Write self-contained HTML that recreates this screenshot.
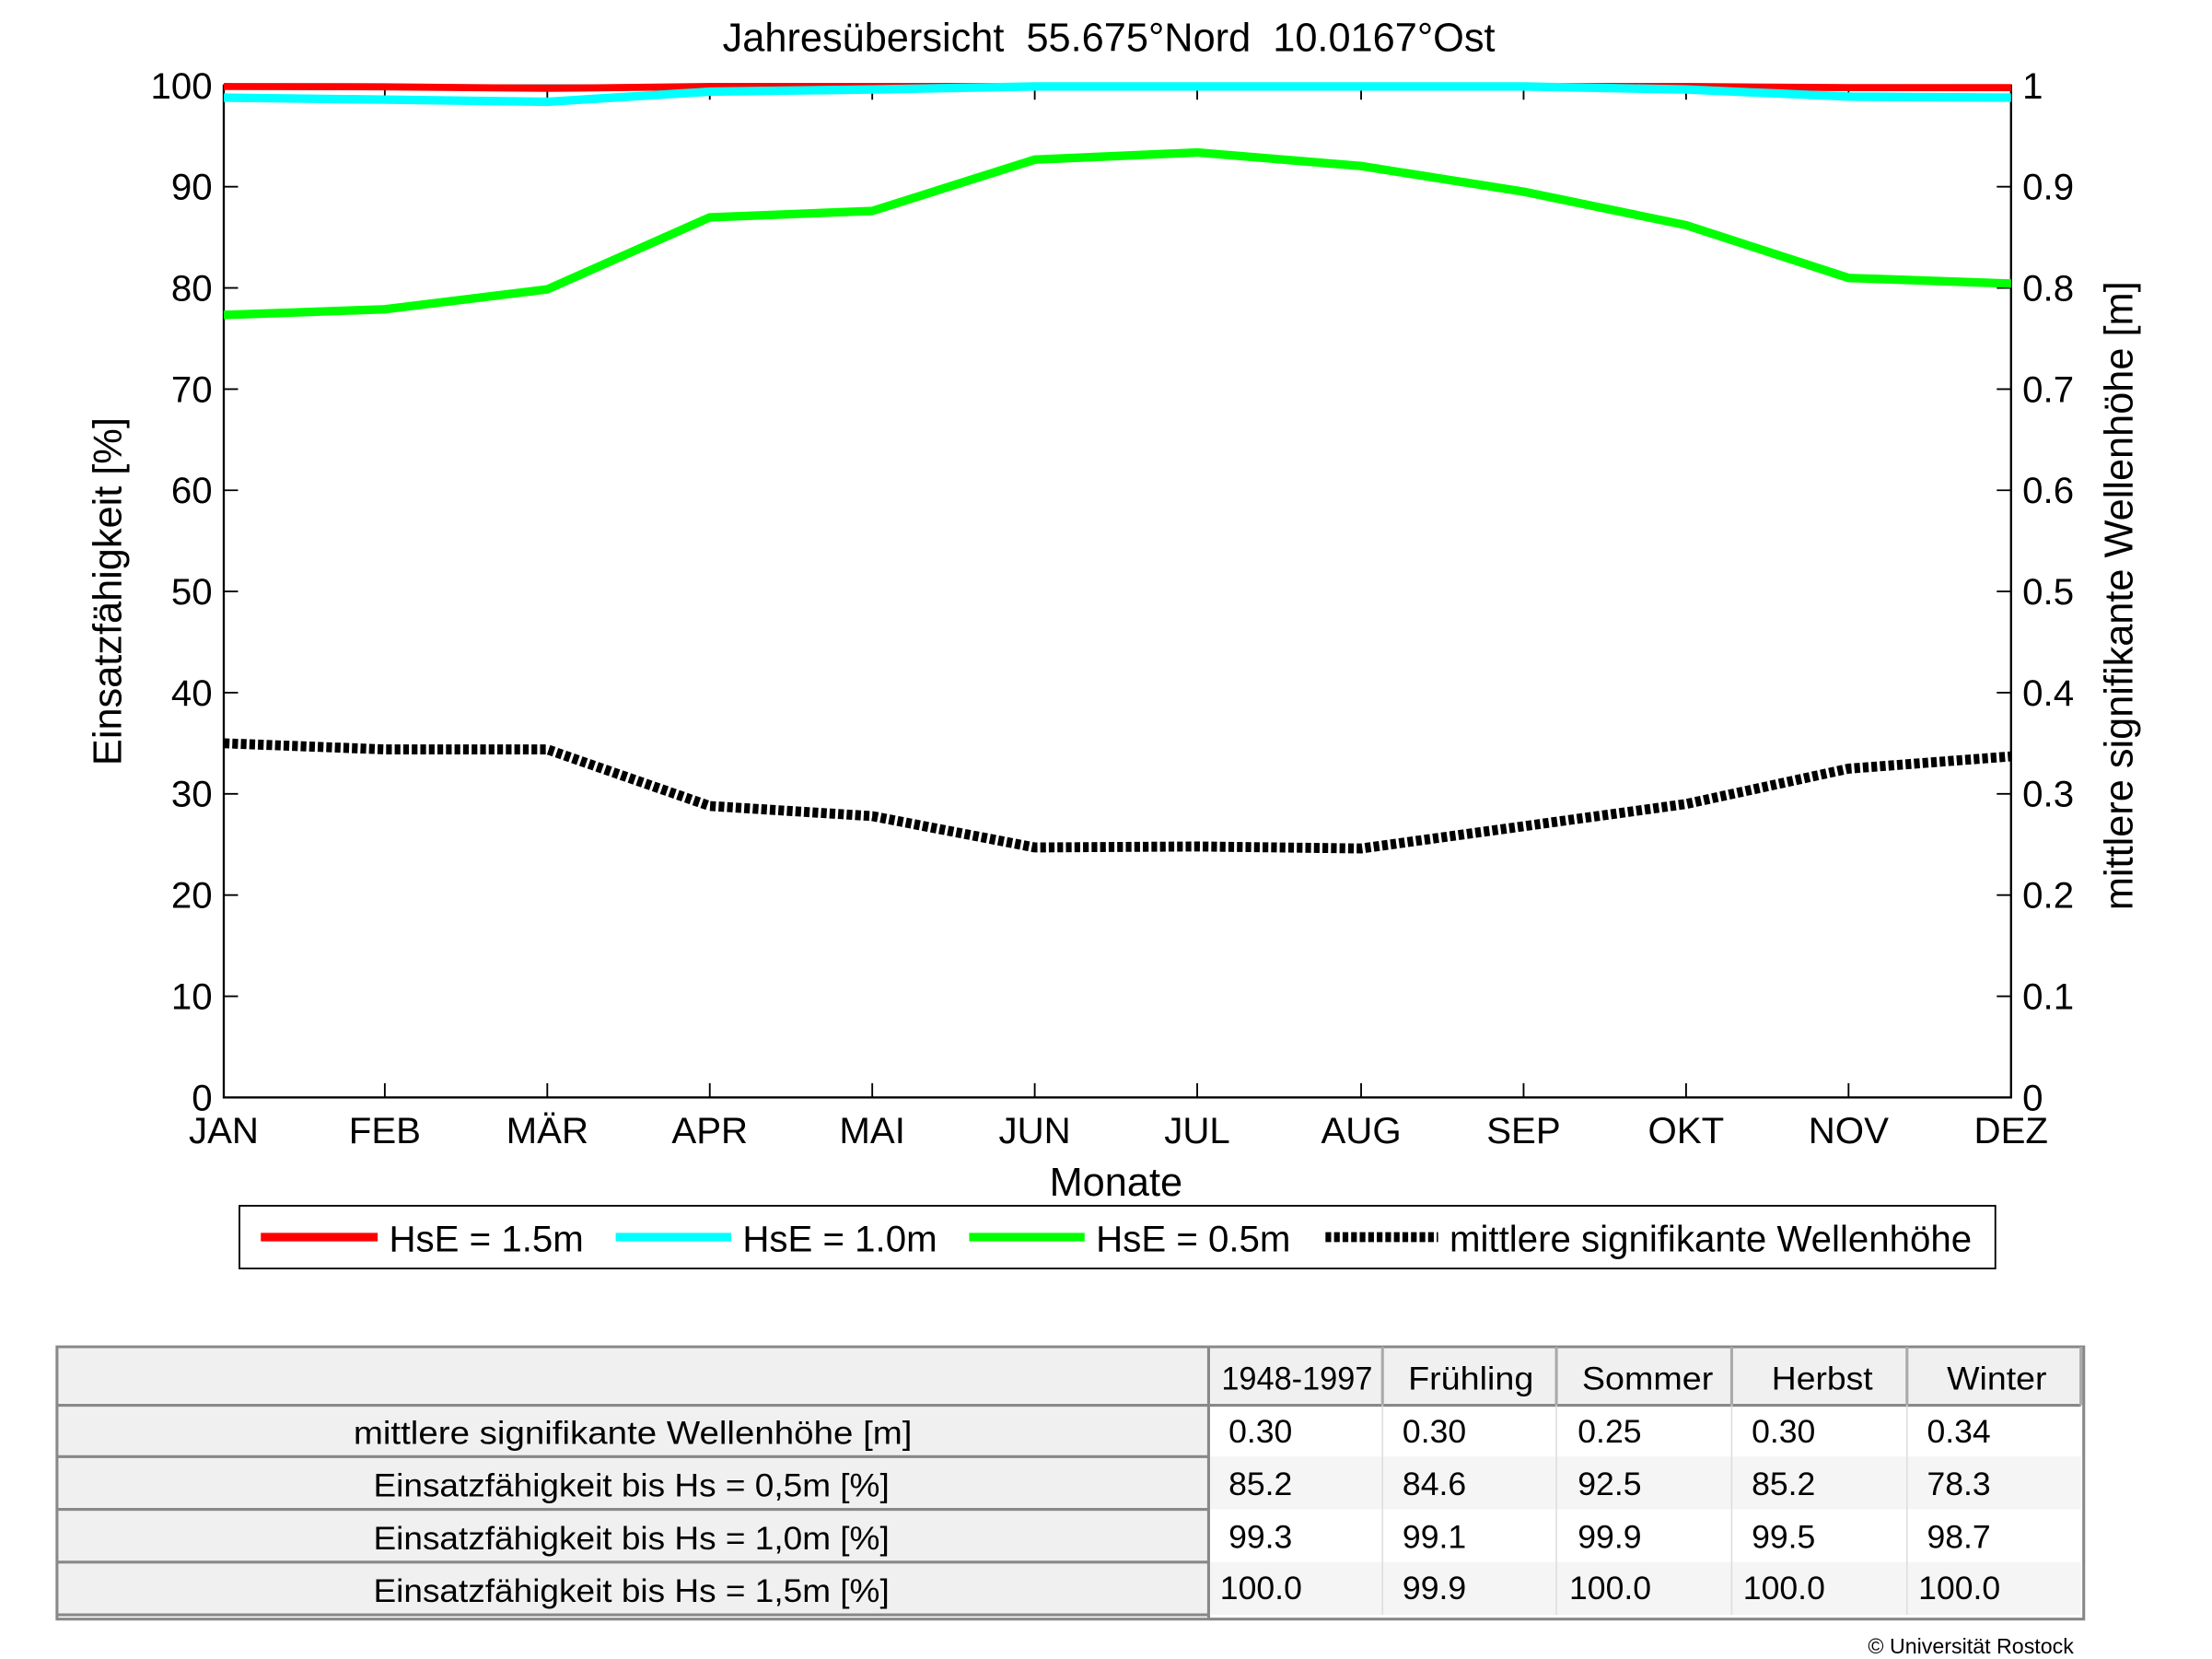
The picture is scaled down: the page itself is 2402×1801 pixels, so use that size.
<!DOCTYPE html>
<html><head><meta charset="utf-8"><style>
html,body{margin:0;padding:0;background:#fff;}
svg{display:block;}
text{font-family:"Liberation Sans",sans-serif;fill:#000;}
</style></head><body>
<svg width="2402" height="1801" viewBox="0 0 1552 1164" preserveAspectRatio="none" xmlns="http://www.w3.org/2000/svg">
<rect width="1552" height="1164" fill="#fff"/>
<text x="778" y="36" font-size="28" text-anchor="middle" xml:space="preserve" style="white-space:pre">Jahresübersicht  55.675°Nord  10.0167°Ost</text>
<rect x="157" y="60" width="1254" height="710" fill="none" stroke="#000" stroke-width="1.5"/>
<g stroke="#000" stroke-width="1.2">
<path d="M157,699h10M157,628h10M157,557h10M157,486h10M157,415h10M157,344h10M157,273h10M157,202h10M157,131h10"/>
<path d="M1411,699h-10M1411,628h-10M1411,557h-10M1411,486h-10M1411,415h-10M1411,344h-10M1411,273h-10M1411,202h-10M1411,131h-10"/>
<path d="M270,770v-10M384,770v-10M498,770v-10M612,770v-10M726,770v-10M840,770v-10M955,770v-10M1069,770v-10M1183,770v-10M1297,770v-10"/>
<path d="M270,60v10M384,60v10M498,60v10M612,60v10M726,60v10M840,60v10M955,60v10M1069,60v10M1183,60v10M1297,60v10"/>
</g>
<g font-size="26" text-anchor="end">
<text x="149" y="69">100</text><text x="149" y="140">90</text><text x="149" y="211">80</text><text x="149" y="282">70</text><text x="149" y="353">60</text><text x="149" y="424">50</text><text x="149" y="495">40</text><text x="149" y="566">30</text><text x="149" y="637">20</text><text x="149" y="708">10</text><text x="149" y="779">0</text>
</g>
<g font-size="26">
<text x="1419" y="69">1</text><text x="1419" y="140">0.9</text><text x="1419" y="211">0.8</text><text x="1419" y="282">0.7</text><text x="1419" y="353">0.6</text><text x="1419" y="424">0.5</text><text x="1419" y="495">0.4</text><text x="1419" y="566">0.3</text><text x="1419" y="637">0.2</text><text x="1419" y="708">0.1</text><text x="1419" y="779">0</text>
</g>
<g font-size="26" text-anchor="middle">
<text x="157" y="802">JAN</text><text x="270" y="802">FEB</text><text x="384" y="802">MÄR</text><text x="498" y="802">APR</text><text x="612" y="802">MAI</text><text x="726" y="802">JUN</text><text x="840" y="802">JUL</text><text x="955" y="802">AUG</text><text x="1069" y="802">SEP</text><text x="1183" y="802">OKT</text><text x="1297" y="802">NOV</text><text x="1411" y="802">DEZ</text>
</g>
<text x="783" y="839" font-size="28" text-anchor="middle">Monate</text>
<text transform="translate(85,415) rotate(-90)" font-size="28" text-anchor="middle">Einsatzfähigkeit [%]</text>
<text transform="translate(1496,418) rotate(-90)" font-size="28" text-anchor="middle">mittlere signifikante Wellenhöhe [m]</text>
<polyline fill="none" stroke="#ff0000" stroke-width="5" points="157,60.7 270,60.9 384,62 498,60.7 612,60.7 726,60.7 840,60.7 955,60.7 1069,60.7 1183,60.7 1297,61.5 1411,61.5"/>
<polyline fill="none" stroke="#00ffff" stroke-width="6" points="157,68.5 270,69.9 384,71.4 498,64.3 612,62.8 726,60.7 840,60.7 955,60.7 1069,60.7 1183,62.8 1297,67.8 1411,68.5"/>
<polyline fill="none" stroke="#00ff00" stroke-width="6" points="157,221 270,217 384,203 498,152.5 612,148 726,112 840,107 955,116.5 1069,134.5 1183,158 1297,195 1411,199"/>
<polyline fill="none" stroke="#000" stroke-width="7" stroke-dasharray="4,2" points="157,521.5 270,525.8 384,525.8 498,565.5 612,572.6 726,594.6 840,593.9 955,595.3 1069,579.7 1183,564.1 1297,539.3 1411,530.7"/>
<rect x="168" y="846" width="1232" height="44" fill="#fff" stroke="#000" stroke-width="1.2"/>
<line x1="183" y1="868" x2="265" y2="868" stroke="#ff0000" stroke-width="6"/>
<text x="273" y="878" font-size="26">HsE = 1.5m</text>
<line x1="432" y1="868" x2="513" y2="868" stroke="#00ffff" stroke-width="6"/>
<text x="521" y="878" font-size="26">HsE = 1.0m</text>
<line x1="680" y1="868" x2="761" y2="868" stroke="#00ff00" stroke-width="6"/>
<text x="769" y="878" font-size="26">HsE = 0.5m</text>
<line x1="930" y1="868" x2="1009" y2="868" stroke="#000" stroke-width="7" stroke-dasharray="4,2"/>
<text x="1017" y="878" font-size="26">mittlere signifikante Wellenhöhe</text>
<rect x="40" y="945" width="1422" height="191" fill="#fff" stroke="#888" stroke-width="2"/>
<rect x="41" y="946" width="807" height="187" fill="#f0f0f0"/>
<rect x="848" y="946" width="612" height="40" fill="#f0f0f0"/>
<rect x="848" y="1022" width="612" height="37" fill="#f5f5f5"/>
<rect x="848" y="1096" width="612" height="37" fill="#f5f5f5"/>
<g stroke="#888" stroke-width="2">
<path d="M40,986H848M40,1022H848M40,1059H848M40,1096H848M40,1133H848"/>
<path d="M848,945V1136M848,986H1460"/>
</g>
<g stroke="#aaa" stroke-width="2"><path d="M970,945V986M1092,945V986M1215,945V986M1338,945V986M1460,945V986"/></g>
<g stroke="#ddd" stroke-width="1"><path d="M970,986V1133M1092,986V1133M1215,986V1133M1338,986V1133"/></g>
<g font-size="23" fill="#222">
<text x="857" y="975" textLength="106" lengthAdjust="spacingAndGlyphs">1948-1997</text>
<text x="988" y="975" textLength="88" lengthAdjust="spacingAndGlyphs">Frühling</text>
<text x="1110" y="975" textLength="92" lengthAdjust="spacingAndGlyphs">Sommer</text>
<text x="1243" y="975" textLength="71" lengthAdjust="spacingAndGlyphs">Herbst</text>
<text x="1366" y="975" textLength="70" lengthAdjust="spacingAndGlyphs">Winter</text>
<text x="248" y="1013" textLength="392" lengthAdjust="spacingAndGlyphs">mittlere signifikante Wellenhöhe [m]</text>
<text x="262" y="1050" textLength="362" lengthAdjust="spacingAndGlyphs">Einsatzfähigkeit bis Hs = 0,5m [%]</text>
<text x="262" y="1087" textLength="362" lengthAdjust="spacingAndGlyphs">Einsatzfähigkeit bis Hs = 1,0m [%]</text>
<text x="262" y="1124" textLength="362" lengthAdjust="spacingAndGlyphs">Einsatzfähigkeit bis Hs = 1,5m [%]</text>
<text x="862" y="1012">0.30</text><text x="984" y="1012">0.30</text><text x="1107" y="1012">0.25</text><text x="1229" y="1012">0.30</text><text x="1352" y="1012">0.34</text>
<text x="862" y="1049">85.2</text><text x="984" y="1049">84.6</text><text x="1107" y="1049">92.5</text><text x="1229" y="1049">85.2</text><text x="1352" y="1049">78.3</text>
<text x="862" y="1086">99.3</text><text x="984" y="1086">99.1</text><text x="1107" y="1086">99.9</text><text x="1229" y="1086">99.5</text><text x="1352" y="1086">98.7</text>
<text x="856" y="1122">100.0</text><text x="984" y="1122">99.9</text><text x="1101" y="1122">100.0</text><text x="1223" y="1122">100.0</text><text x="1346" y="1122">100.0</text>
</g>
<text x="1455" y="1160" font-size="15" text-anchor="end">© Universität Rostock</text>
</svg>
</body></html>
